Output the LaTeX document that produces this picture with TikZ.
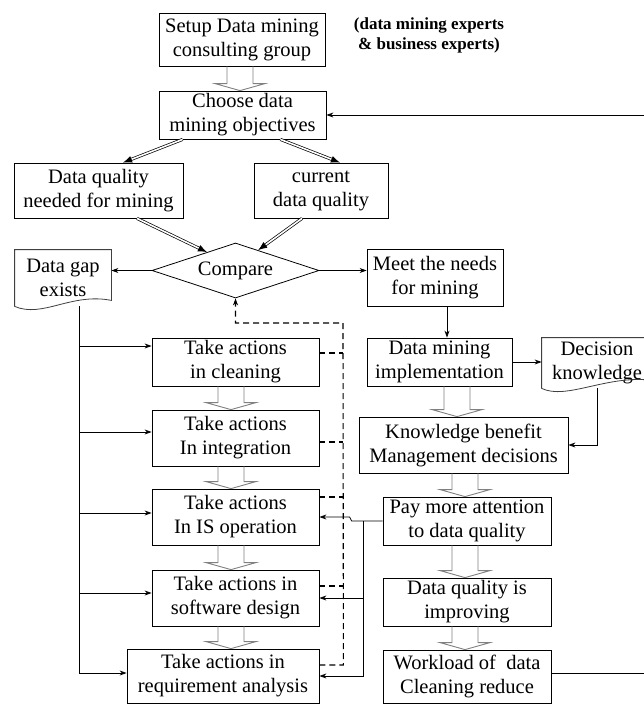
\documentclass[tikz,border=0pt]{standalone}
\usepackage{fontspec}
\setmainfont{Liberation Serif}
\usetikzlibrary{shapes.geometric,arrows.meta,calc}

% wide hollow arrow between two boxes, shifted sideways by #3
\newcommand{\blockarrow}[3]{%
  \draw[hollow] let \p1=(#1.south), \p2=(#2.north) in
    (\x1+#3-13pt,\y1) -- (\x1+#3-13pt,\y2+7pt) -- (\x1+#3-25pt,\y2+7pt)
    -- (\x1+#3,\y2) -- (\x1+#3+25pt,\y2+7pt) -- (\x1+#3+13pt,\y2+7pt)
    -- (\x1+#3+13pt,\y1);}
% double line with a solid tip
\newcommand{\dblarrow}[2]{%
  \draw[dbl, shorten >=7pt] (#1) -- (#2);
  \draw[-{Latex[length=9pt,width=7pt]}] ($(#2)!9pt!(#1)$) -- (#2);}

\begin{document}
\begin{tikzpicture}[x=1pt,y=-1pt,line width=0.8pt,
  font=\fontsize{20.5}{24}\selectfont,
  box/.style={draw, inner sep=0pt, align=center},
  arr/.style={-{Stealth[length=7pt,width=5pt]}},
  hollow/.style={draw=gray, line width=0.9pt},
  dbl/.style={double, double distance=1.6pt, line width=0.7pt},
  fb/.style={line width=1.1pt, dash pattern=on 6pt off 4pt},
  doc/.style={draw=black!75}]
\useasboundingbox (0,0) rectangle (643,704);

% top part
\node[box, minimum width=166pt, minimum height=53pt] (setup) at (242,39.5) {Setup Data mining\\consulting group};
\node[font=\fontsize{17}{20}\selectfont\bfseries, align=center] (note) at (429,35) {(data mining experts\\ \& business experts)};
\node[box, minimum width=167pt, minimum height=48pt] (choose) at (242.5,115) {Choose data\\mining objectives};
\node[box, minimum width=169pt, minimum height=55pt] (need) at (98.5,190.5) {Data quality\\needed for mining};
\node[box, minimum width=134pt, minimum height=55pt] (curr) at (321,190.5) {current\\data quality};
\node[draw, diamond, aspect=3, inner sep=0pt, minimum width=167pt, minimum height=55pt] (compare) at (235.5,270.5) {Compare};
\node[inner sep=0pt, minimum width=96pt, minimum height=56pt, align=center] (gap) at (63,278) {Data gap\\exists};
\node[box, minimum width=136pt, minimum height=57pt] (meet) at (435,277.5) {Meet the needs\\for mining};

% left column
\node[box, minimum width=167pt, minimum height=48pt] (clean) at (235.5,362) {Take actions\\ in cleaning};
\node[box, minimum width=167pt, minimum height=56pt] (integ) at (235.5,438) {Take actions\\In integration};
\node[box, minimum width=167pt, minimum height=56pt] (isop) at (235.5,517) {Take actions\\In IS operation};
\node[box, minimum width=167pt, minimum height=56pt] (soft) at (235.5,598) {Take actions in\\software design};
\node[box, minimum width=192pt, minimum height=54pt] (req) at (223,676) {Take actions in\\requirement analysis};

% right column
\node[box, minimum width=145pt, minimum height=48pt] (impl) at (439.5,362) {Data mining\\implementation};
\node[inner sep=0pt, minimum width=110pt, minimum height=50pt, align=center] (dec) at (597,363) {Decision\\knowledge};
\node[box, minimum width=209pt, minimum height=56pt] (know) at (463.5,445) {Knowledge benefit\\Management decisions};
\node[box, minimum width=168pt, minimum height=48pt] (pay) at (467,521) {Pay more attention\\to data quality};
\node[box, minimum width=168pt, minimum height=48pt] (impr) at (467,602) {Data quality is\\improving};
\node[box, minimum width=168pt, minimum height=53pt] (work) at (467,676.5) {Workload of\ \ data\\Cleaning reduce};

% document outlines
\draw[doc] (gap.south west) -- (gap.north west) -- (gap.north east) -- ([yshift=6pt]gap.south east)
  .. controls ([xshift=-40pt,yshift=14pt]gap.south east) and ([xshift=28pt,yshift=-12pt]gap.south west) .. (gap.south west);
\draw[doc] (dec.south west) -- (dec.north west) -- (dec.north east) -- ([yshift=8pt]dec.south east)
  .. controls ([xshift=-45pt,yshift=14pt]dec.south east) and ([xshift=25pt,yshift=-12pt]dec.south west) .. (dec.south west);

% hollow arrows
\blockarrow{setup}{choose}{-2pt}
\blockarrow{clean}{integ}{-4.5pt}
\blockarrow{integ}{isop}{-4.5pt}
\blockarrow{isop}{soft}{-4.5pt}
\blockarrow{soft}{req}{-4.5pt}
\blockarrow{impl}{know}{17.5pt}
\blockarrow{know}{pay}{1.5pt}
\blockarrow{pay}{impr}{-2pt}
\blockarrow{impr}{work}{-2pt}

% double arrows
\coordinate (c1) at ([xshift=24pt]choose.south west);
\coordinate (c2) at ([xshift=-46pt]choose.south east);
\coordinate (n1) at ([xshift=24.5pt]need.north);
\coordinate (n2) at ([xshift=19pt]curr.north);
\coordinate (s1) at ([xshift=38.5pt]need.south);
\coordinate (s2) at ([xshift=-19pt]curr.south);
\coordinate (cmpA) at ($(compare.north)!0.34!(compare.west)$);
\coordinate (cmpB) at ($(compare.north)!0.27!(compare.east)$);
\dblarrow{c1}{n1}
\dblarrow{c2}{n2}
\dblarrow{s1}{cmpA}
\dblarrow{s2}{cmpB}

% compare outcomes
\draw[arr] (compare.west) -- (compare.west -| gap.east);
\draw[arr] (compare.east) -- (compare.east -| meet.west);

% rail from data gap
\coordinate (rail) at ([xshift=16pt]gap.south);
\coordinate (b1) at ([yshift=16pt]clean.west);
\coordinate (b2) at ([yshift=6pt]integ.west);
\coordinate (b3) at ([yshift=4pt]isop.west);
\coordinate (b4) at ([yshift=5pt]soft.west);
\coordinate (b5) at ([yshift=3pt]req.west);
\draw (rail) -- (rail |- b5);
\draw[arr] (rail |- b1) -- (b1);
\draw[arr] (rail |- b2) -- (b2);
\draw[arr] (rail |- b3) -- (b3);
\draw[arr] (rail |- b4) -- (b4);
\draw[arr] (rail |- b5) -- (b5);

% dashed feedback to compare
\coordinate (dtop) at (343,323);
\draw[fb] ([yshift=9pt]clean.east) -- ++(24,0);
\draw[fb] ([yshift=-4pt]integ.east) -- ++(24,0);
\draw[fb] ([yshift=20pt]isop.east) -- ++(24,0);
\draw[fb] ([yshift=12pt]soft.east) -- ++(24,0);
\draw[fb, -{Stealth[length=7pt,width=5pt]}] ([yshift=11pt]req.east) -- ++(24,0) -- (dtop) -| (compare.south);

% right column links
\draw[arr] ([xshift=12pt]meet.south) -- ([xshift=12pt]meet.south |- impl.north);
\draw[arr] (impl.east) -- (impl.east -| dec.west);
\draw[arr] (dec.south) |- (know.east);

% attention goes back to the actions
\coordinate (bus) at ([xshift=-19pt]pay.west);
\draw[arr] (pay.west) -- ([xshift=-31pt]pay.west) -- ([xshift=-33pt,yshift=4pt]pay.west) -- (isop.east);
\draw (bus) -- (bus |- req.east);
\draw[arr] (bus |- soft.east) -- (soft.east);
\draw[arr] (bus |- req.east) -- (req.east);

% back to the objectives
\draw[arr] ([yshift=3.5pt]work.east) -- ++(100,0) |- (choose.east);
\end{tikzpicture}
\end{document}
